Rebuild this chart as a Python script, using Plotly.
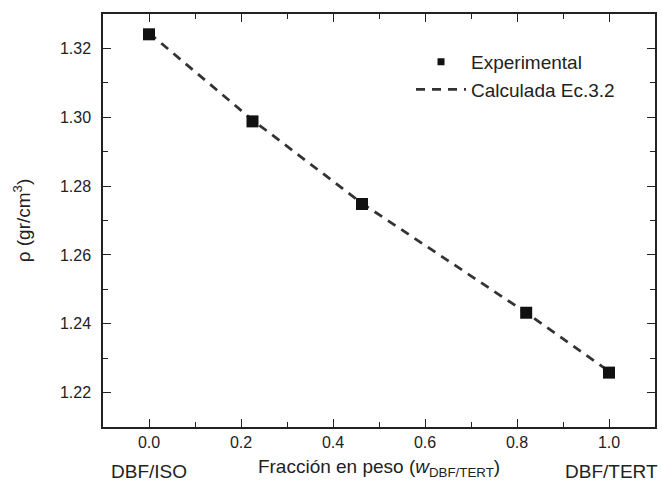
import plotly.graph_objects as go

# Data
x_exp = [0.0, 0.225, 0.463, 0.820, 1.0]
y_exp = [1.3241, 1.2988, 1.2748, 1.2432, 1.2258]
x_calc = [0.0, 0.225, 0.463, 0.820, 1.0]
y_calc = [1.3245, 1.2992, 1.2750, 1.2432, 1.2262]

x_ticks = [0.0, 0.2, 0.4, 0.6, 0.8, 1.0]
x_ticklabels = ["0.0", "0.2", "0.4", "0.6", "0.8", "1.0"]
y_ticks = [1.22, 1.24, 1.26, 1.28, 1.30, 1.32]
y_ticklabels = ["1.22", "1.24", "1.26", "1.28", "1.30", "1.32"]

FONT = "Liberation Sans, Arial, sans-serif"
TXT = "#222222"

fig = go.Figure()
fig.add_trace(go.Scatter(
    x=x_calc, y=y_calc, mode="lines", name="Calculada Ec.3.2",
    line=dict(color="#333333", width=2.8, dash="9px,7px"),
    legendrank=2,
))
fig.add_trace(go.Scatter(
    x=x_exp, y=y_exp, mode="markers", name="Experimental",
    marker=dict(symbol="square", size=12, color="#111111"),
    showlegend=False,
))
# legend entry for the experimental points (smaller symbol, as in the reference legend)
fig.add_trace(go.Scatter(
    x=[None], y=[None], mode="markers", name="Experimental",
    marker=dict(symbol="square", size=7, color="#111111"),
    legendrank=1,
))

axis_common = dict(
    showline=True, linecolor="#222222", linewidth=1.5, mirror="allticks",
    ticks="inside", ticklen=8, tickwidth=1.3, tickcolor="#222222",
    showgrid=False, zeroline=False,
    tickfont=dict(family=FONT, size=16, color=TXT),
)

fig.update_xaxes(
    range=[-0.1, 1.1], tickvals=x_ticks, ticktext=x_ticklabels,
    minor=dict(ticks="inside", ticklen=5, dtick=0.1, tick0=0, tickcolor="#222222", tickwidth=1.2),
    title=dict(text="Fracción en peso (<i>w</i><sub>DBF/TERT</sub>)",
               font=dict(family=FONT, size=19, color=TXT), standoff=10),
    **axis_common,
)
fig.update_yaxes(
    range=[1.21, 1.33], tickvals=y_ticks, ticktext=y_ticklabels,
    minor=dict(ticks="inside", ticklen=5, dtick=0.01, tick0=1.21, tickcolor="#222222", tickwidth=1.2),
    title=dict(text="ρ (gr/cm<sup>3</sup>)", font=dict(family=FONT, size=19, color=TXT), standoff=24),
    ticklabelstandoff=7,
    **axis_common,
)

fig.add_annotation(x=0.0, y=-0.108, xref="x", yref="paper", text="DBF/ISO", showarrow=False,
                   xanchor="center", yanchor="middle",
                   font=dict(family=FONT, size=19, color=TXT))
fig.add_annotation(x=1.0, y=-0.108, xref="x", yref="paper", text="DBF/TERT", showarrow=False,
                   xanchor="center", yanchor="middle", xshift=2,
                   font=dict(family=FONT, size=19, color=TXT))

fig.update_layout(
    width=662, height=486,
    margin=dict(l=103, r=5, t=14, b=59),
    paper_bgcolor="white", plot_bgcolor="white",
    legend=dict(x=0.558, y=0.93, xanchor="left", yanchor="top",
                font=dict(family=FONT, size=19, color=TXT),
                bgcolor="rgba(0,0,0,0)",
                itemwidth=50, tracegroupgap=0),
    showlegend=True,
)

fig.write_html("out.html")
